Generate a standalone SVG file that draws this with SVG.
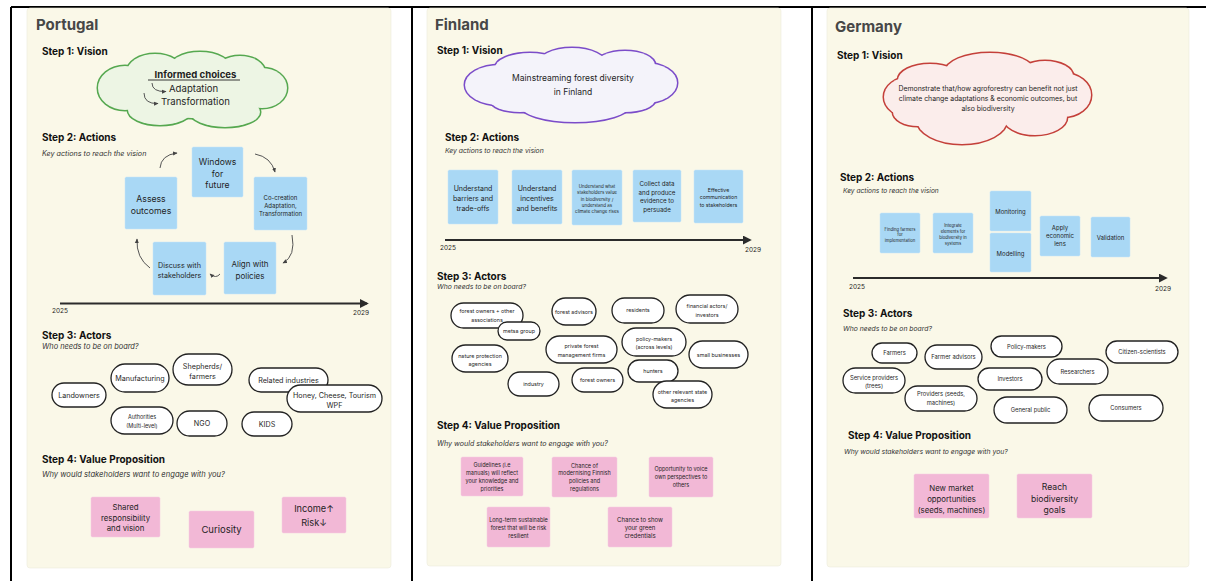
<svg xmlns="http://www.w3.org/2000/svg" width="1206" height="581" viewBox="0 0 1206 581">
<defs>
<style>
text{font-family:"Inter","Liberation Sans",sans-serif;fill:#1f1f1f}
.ttl{font-size:15px;font-weight:700;fill:#474747}
.h{font-size:10px;font-weight:700;fill:#111}
.it{font-style:italic;fill:#333}
.c{text-anchor:middle}
.panel{fill:#faf8e8;stroke:#ecebdc;stroke-width:0.6}
.blue{fill:#a9d8f5;stroke:#c4e4f8;stroke-width:0.5}
.pink{fill:#f2b8d6;stroke:#f6cfe3;stroke-width:0.5}
.pill{fill:#fff;stroke:#222;stroke-width:1.3}
.cur{fill:none;stroke:#555;stroke-width:1}
.tl{stroke:#2b2b2b;stroke-width:2}
.frame{stroke:#000;stroke-width:2}
</style>
<marker id="tri" viewBox="0 0 10 10" refX="8" refY="5" markerWidth="4.5" markerHeight="4.5" orient="auto"><path d="M0,0 L10,5 L0,10 z" fill="#2b2b2b"/></marker>
<marker id="ah" viewBox="0 0 10 10" refX="8" refY="5" markerWidth="5" markerHeight="5" orient="auto"><path d="M0,1 L9,5 L0,9 z" fill="#444"/></marker>
</defs>

<g id="frame">
<line class="frame" x1="11" y1="7" x2="1206" y2="7"/>
<line class="frame" x1="11" y1="7" x2="11" y2="581"/>
<line class="frame" x1="412" y1="7" x2="412" y2="581"/>
<line class="frame" x1="812" y1="7" x2="812" y2="581"/>
</g>

<!-- ================= PORTUGAL ================= -->
<g id="portugal">
<rect class="panel" x="27" y="8" width="364" height="560" rx="3"/>
<text class="ttl" x="36" y="30">Portugal</text>
<text class="h" x="42" y="55">Step 1: Vision</text>

<g id="pt-vision">
<g fill="#edf5e4" stroke="#56a850" stroke-width="3">
<ellipse cx="192" cy="90" rx="80" ry="28"/>
<ellipse cx="125" cy="88" rx="27" ry="22"/>
<ellipse cx="262" cy="88" rx="25" ry="20"/>
<ellipse cx="155" cy="72" rx="28" ry="18"/>
<ellipse cx="200" cy="70" rx="32" ry="18"/>
<ellipse cx="240" cy="72" rx="25" ry="16"/>
<ellipse cx="160" cy="110" rx="32" ry="15"/>
<ellipse cx="225" cy="112" rx="35" ry="15"/>
</g>
<g fill="#edf5e4">
<ellipse cx="192" cy="90" rx="80" ry="28"/>
<ellipse cx="125" cy="88" rx="27" ry="22"/>
<ellipse cx="262" cy="88" rx="25" ry="20"/>
<ellipse cx="155" cy="72" rx="28" ry="18"/>
<ellipse cx="200" cy="70" rx="32" ry="18"/>
<ellipse cx="240" cy="72" rx="25" ry="16"/>
<ellipse cx="160" cy="110" rx="32" ry="15"/>
<ellipse cx="225" cy="112" rx="35" ry="15"/>
</g>
<text x="195.5" y="78" class="c" font-size="9.6" font-weight="700">Informed choices</text>
<line x1="148" y1="80" x2="240" y2="80" stroke="#222" stroke-width="0.9"/>
<path class="cur" d="M152,83 Q152,92 166,91.5" stroke="#222" marker-end="url(#ah)"/>
<text x="169" y="92" font-size="9.6">Adaptation</text>
<path class="cur" d="M144,93 Q144,104 158,103.5" stroke="#222" marker-end="url(#ah)"/>
<text x="161" y="105" font-size="9.6">Transformation</text>
</g>

<text class="h" x="42" y="141">Step 2: Actions</text>
<text class="it" x="42" y="156" font-size="7.2">Key actions to reach the vision</text>

<g id="pt-windows"><rect class="blue" x="192" y="147" width="51" height="50" rx="1.5"/>
<text class="c" x="217.5" font-size="8.6"><tspan x="217.5" y="165">Windows</tspan><tspan x="217.5" y="176.5">for</tspan><tspan x="217.5" y="188">future</tspan></text></g>
<g id="pt-cocreation"><rect class="blue" x="254" y="177" width="53" height="53" rx="1.5"/>
<text class="c" font-size="6"><tspan x="280.5" y="199.5">Co-creation</tspan><tspan x="280.5" y="207.5">Adaptation,</tspan><tspan x="280.5" y="215.5">Transformation</tspan></text></g>
<g id="pt-assess"><rect class="blue" x="125" y="177" width="52" height="52" rx="1.5"/>
<text class="c" font-size="8.7"><tspan x="151" y="201.5">Assess</tspan><tspan x="151" y="213.5">outcomes</tspan></text></g>
<g id="pt-discuss"><rect class="blue" x="153" y="242" width="53" height="53" rx="1.5"/>
<text class="c" font-size="7.2"><tspan x="179.5" y="267.5">Discuss with</tspan><tspan x="179.5" y="277.5">stakeholders</tspan></text></g>
<g id="pt-align"><rect class="blue" x="224" y="242" width="52" height="52" rx="1.5"/>
<text class="c" font-size="8"><tspan x="250" y="267">Align with</tspan><tspan x="250" y="278.5">policies</tspan></text></g>

<g id="pt-connectors">
<path class="cur" d="M160,168 Q161,155 177,153" marker-end="url(#ah)"/>
<path class="cur" d="M255,154 Q271,157 275,172" marker-end="url(#ah)"/>
<path class="cur" d="M292,235 Q296,256 283,263" marker-end="url(#ah)"/>
<path class="cur" d="M220,274 Q216,279 210,274" marker-end="url(#ah)"/>
<path class="cur" d="M150,268 Q136,258 137,239" marker-end="url(#ah)"/>
</g>

<g id="pt-timeline">
<line class="tl" x1="60" y1="303.5" x2="367" y2="303.5" marker-end="url(#tri)"/>
<text x="52" y="313" font-size="6.5">2025</text>
<text x="353" y="315" font-size="6.5">2029</text>
</g>

<text class="h" x="42" y="339">Step 3: Actors</text>
<text class="it" x="42" y="349" font-size="7.4">Who needs to be on board?</text>

<g id="pt-actors" font-size="7.2">
<g id="pt-landowners"><rect class="pill" x="52" y="383" width="54" height="24" rx="12"/><text class="c" x="79" y="397.5">Landowners</text></g>
<g id="pt-manufacturing"><rect class="pill" x="111" y="364" width="58" height="28" rx="14"/><text class="c" x="140" y="380.5">Manufacturing</text></g>
<g id="pt-shepherds"><rect class="pill" x="173" y="354" width="59" height="31" rx="15.5"/><text class="c"><tspan x="202.5" y="368.5">Shepherds/</tspan><tspan x="202.5" y="378.5">farmers</tspan></text></g>
<g id="pt-related"><rect class="pill" x="249" y="368" width="79" height="24" rx="12"/><text class="c" x="288.5" y="382.5">Related industries</text></g>
<g id="pt-honey"><rect class="pill" x="287" y="385" width="95" height="27" rx="13.5"/><text class="c"><tspan x="334.5" y="397.5">Honey, Cheese, Tourism</tspan><tspan x="334.5" y="407.5">WPF</tspan></text></g>
<g id="pt-authorities"><rect class="pill" x="111" y="407" width="62" height="27" rx="13.5"/><text class="c" font-size="5.5"><tspan x="142" y="419">Authorities</tspan><tspan x="142" y="427.5">(Multi-level)</tspan></text></g>
<g id="pt-ngo"><rect class="pill" x="177" y="411" width="50" height="25" rx="12.5"/><text class="c" x="202" y="426">NGO</text></g>
<g id="pt-kids"><rect class="pill" x="242" y="412" width="50" height="24" rx="12"/><text class="c" x="267" y="427">KIDS</text></g>
</g>

<text class="h" x="42" y="463" font-size="9.5">Step 4: Value Proposition</text>
<text class="it" x="42" y="477" font-size="7.6">Why would stakeholders want to engage with you?</text>

<g id="pt-values">
<g id="pt-shared"><rect class="pink" x="91" y="497" width="69" height="40" rx="1.5"/><text class="c" font-size="7.8"><tspan x="125.5" y="510">Shared</tspan><tspan x="125.5" y="520.5">responsibility</tspan><tspan x="125.5" y="531">and vision</tspan></text></g>
<g id="pt-curiosity"><rect class="pink" x="189" y="511" width="65" height="37" rx="1.5"/><text class="c" x="221.5" y="533" font-size="9.5">Curiosity</text></g>
<g id="pt-income"><rect class="pink" x="282" y="497" width="64" height="36" rx="1.5"/><text class="c" font-size="9.2"><tspan x="314" y="512">Income↑</tspan><tspan x="314" y="525.5">Risk↓</tspan></text></g>
</g>
</g>

<!-- ================= FINLAND ================= -->
<g id="finland">
<rect class="panel" x="427" y="8" width="354" height="558" rx="3"/>
<text class="ttl" x="435" y="30">Finland</text>
<text class="h" x="437" y="54" font-size="9.5">Step 1: Vision</text>

<g id="fi-vision">
<g fill="#f4f3fa" stroke="#7b4cc9" stroke-width="3">
<ellipse cx="571" cy="85" rx="95" ry="25"/>
<ellipse cx="500" cy="85" rx="35" ry="20"/>
<ellipse cx="645" cy="83" rx="32" ry="20"/>
<ellipse cx="530" cy="68" rx="35" ry="15"/>
<ellipse cx="572" cy="65" rx="35" ry="17"/>
<ellipse cx="625" cy="65" rx="30" ry="14"/>
<ellipse cx="575" cy="105" rx="55" ry="17"/>
<ellipse cx="520" cy="100" rx="30" ry="12"/>
<ellipse cx="625" cy="100" rx="30" ry="12"/>
</g>
<g fill="#f4f3fa">
<ellipse cx="571" cy="85" rx="95" ry="25"/>
<ellipse cx="500" cy="85" rx="35" ry="20"/>
<ellipse cx="645" cy="83" rx="32" ry="20"/>
<ellipse cx="530" cy="68" rx="35" ry="15"/>
<ellipse cx="572" cy="65" rx="35" ry="17"/>
<ellipse cx="625" cy="65" rx="30" ry="14"/>
<ellipse cx="575" cy="105" rx="55" ry="17"/>
<ellipse cx="520" cy="100" rx="30" ry="12"/>
<ellipse cx="625" cy="100" rx="30" ry="12"/>
</g>
<text class="c" font-size="8.5"><tspan x="573" y="81">Mainstreaming forest diversity</tspan><tspan x="573" y="95">in Finland</tspan></text>
</g>

<text class="h" x="445" y="141">Step 2: Actions</text>
<text class="it" x="445" y="153" font-size="6.8">Key actions to reach the vision</text>

<g id="fi-actions">
<g id="fi-a1"><rect class="blue" x="448" y="170" width="50" height="54" rx="1.5"/><text class="c" font-size="7"><tspan x="473" y="190.5">Understand</tspan><tspan x="473" y="200.5">barriers and</tspan><tspan x="473" y="210.5">trade-offs</tspan></text></g>
<g id="fi-a2"><rect class="blue" x="512" y="170" width="50" height="54" rx="1.5"/><text class="c" font-size="7"><tspan x="537" y="190.5">Understand</tspan><tspan x="537" y="200.5">incentives</tspan><tspan x="537" y="210.5">and benefits</tspan></text></g>
<g id="fi-a3"><rect class="blue" x="572" y="170" width="50" height="55" rx="1.5"/><text class="c" font-size="4.5"><tspan x="597" y="187.5">Understand what</tspan><tspan x="597" y="194">stakeholders value</tspan><tspan x="597" y="200.5">in biodiversity /</tspan><tspan x="597" y="207">understand as</tspan><tspan x="597" y="213">climate change rises</tspan></text></g>
<g id="fi-a4"><rect class="blue" x="633" y="170" width="48" height="52" rx="1.5"/><text class="c" font-size="6.2"><tspan x="657" y="186">Collect data</tspan><tspan x="657" y="194.5">and produce</tspan><tspan x="657" y="203">evidence to</tspan><tspan x="657" y="211.5">persuade</tspan></text></g>
<g id="fi-a5"><rect class="blue" x="694" y="170" width="49" height="53" rx="1.5"/><text class="c" font-size="5.2"><tspan x="718.5" y="191.5">Effective</tspan><tspan x="718.5" y="199">communication</tspan><tspan x="718.5" y="206.5">to stakeholders</tspan></text></g>
</g>

<g id="fi-timeline">
<line class="tl" x1="445" y1="240" x2="750" y2="240" marker-end="url(#tri)"/>
<text x="440" y="250" font-size="6.5">2025</text>
<text x="745" y="252" font-size="6.5">2029</text>
</g>

<text class="h" x="437" y="280" font-size="9.2">Step 3: Actors</text>
<text class="it" x="437" y="289" font-size="6.8">Who needs to be on board?</text>

<g id="fi-actors" font-size="5.4">
<g id="fi-owners-assoc"><rect class="pill" x="451" y="303" width="72" height="25" rx="12.5"/><text class="c"><tspan x="487" y="313">forest owners + other</tspan><tspan x="487" y="321.5">associations</tspan></text></g>
<g id="fi-metsa"><rect class="pill" x="498" y="322" width="42" height="18" rx="9"/><text class="c" x="519" y="333">metsa group</text></g>
<g id="fi-advisors"><rect class="pill" x="552" y="298" width="44" height="27" rx="13.5"/><text class="c" x="574" y="313.5">forest advisors</text></g>
<g id="fi-residents"><rect class="pill" x="612" y="298" width="52" height="25" rx="12.5"/><text class="c" x="638" y="312">residents</text></g>
<g id="fi-financial"><rect class="pill" x="676" y="295" width="62" height="28" rx="14"/><text class="c"><tspan x="707" y="308">financial actors/</tspan><tspan x="707" y="316.5">investors</tspan></text></g>
<g id="fi-private"><rect class="pill" x="546" y="336" width="71" height="27" rx="13.5"/><text class="c"><tspan x="581.5" y="347.5">private forest</tspan><tspan x="581.5" y="356.5">management firms</tspan></text></g>
<g id="fi-policy"><rect class="pill" x="622" y="328" width="64" height="28" rx="14"/><text class="c"><tspan x="654" y="340.5">policy-makers</tspan><tspan x="654" y="349">(across levels)</tspan></text></g>
<g id="fi-small"><rect class="pill" x="689" y="341" width="59" height="27" rx="13.5"/><text class="c" x="718.5" y="356.5">small businesses</text></g>
<g id="fi-nature"><rect class="pill" x="452" y="345" width="56" height="27" rx="13.5"/><text class="c"><tspan x="480" y="357.5">nature protection</tspan><tspan x="480" y="366">agencies</tspan></text></g>
<g id="fi-industry"><rect class="pill" x="508" y="372" width="51" height="24" rx="12"/><text class="c" x="533.5" y="386">industry</text></g>
<g id="fi-owners"><rect class="pill" x="572" y="368" width="51" height="24" rx="12"/><text class="c" x="597.5" y="382">forest owners</text></g>
<g id="fi-hunters"><rect class="pill" x="628" y="360" width="50" height="22" rx="11"/><text class="c" x="653" y="373">hunters</text></g>
<g id="fi-state"><rect class="pill" x="653" y="381" width="59" height="27" rx="13.5"/><text class="c"><tspan x="682.5" y="393.5">other relevant state</tspan><tspan x="682.5" y="402">agencies</tspan></text></g>
</g>

<text class="h" x="437" y="429" font-size="11.5">Step 4: Value Proposition</text>
<text class="it" x="437" y="446" font-size="7.1">Why would stakeholders want to engage with you?</text>

<g id="fi-values" font-size="5.5">
<g id="fi-v1"><rect class="pink" x="461" y="457" width="62" height="39" rx="1.5"/><text class="c"><tspan x="492" y="466.5">Guidelines (i.e</tspan><tspan x="492" y="474.5">manuals) will reflect</tspan><tspan x="492" y="482.5">your knowledge and</tspan><tspan x="492" y="490.5">priorities</tspan></text></g>
<g id="fi-v2"><rect class="pink" x="552" y="457" width="65" height="40" rx="1.5"/><text class="c"><tspan x="584.5" y="467.5">Chance of</tspan><tspan x="584.5" y="475">modernising Finnish</tspan><tspan x="584.5" y="483">policies and</tspan><tspan x="584.5" y="491">regulations</tspan></text></g>
<g id="fi-v3"><rect class="pink" x="649" y="457" width="64" height="40" rx="1.5"/><text class="c"><tspan x="681" y="471">Opportunity to voice</tspan><tspan x="681" y="479">own perspectives to</tspan><tspan x="681" y="487">others</tspan></text></g>
<g id="fi-v4"><rect class="pink" x="487" y="507" width="63" height="40" rx="1.5"/><text class="c"><tspan x="518.5" y="522">Long-term sustainable</tspan><tspan x="518.5" y="530">forest that will be risk</tspan><tspan x="518.5" y="538">resilient</tspan></text></g>
<g id="fi-v5"><rect class="pink" x="608" y="507" width="64" height="40" rx="1.5"/><text class="c" font-size="6"><tspan x="640" y="522">Chance to show</tspan><tspan x="640" y="530">your green</tspan><tspan x="640" y="538">credentials</tspan></text></g>
</g>
</g>

<!-- ================= GERMANY ================= -->
<g id="germany">
<rect class="panel" x="827" y="8" width="362" height="559" rx="3"/>
<text class="ttl" x="835" y="32">Germany</text>
<text class="h" x="837" y="59" font-size="9.7">Step 1: Vision</text>

<g id="de-vision">
<g fill="#fbedeb" stroke="#c4403a" stroke-width="3">
<ellipse cx="988" cy="97" rx="95" ry="25"/>
<ellipse cx="910" cy="97" rx="26" ry="20"/>
<ellipse cx="1063" cy="95" rx="28" ry="22"/>
<ellipse cx="930" cy="80" rx="32" ry="16"/>
<ellipse cx="990" cy="72" rx="45" ry="19"/>
<ellipse cx="1045" cy="76" rx="28" ry="15"/>
<ellipse cx="962" cy="120" rx="45" ry="24"/>
<ellipse cx="1035" cy="117" rx="32" ry="18"/>
<ellipse cx="918" cy="112" rx="25" ry="14"/>
</g>
<g fill="#fbedeb">
<ellipse cx="988" cy="97" rx="95" ry="25"/>
<ellipse cx="910" cy="97" rx="26" ry="20"/>
<ellipse cx="1063" cy="95" rx="28" ry="22"/>
<ellipse cx="930" cy="80" rx="32" ry="16"/>
<ellipse cx="990" cy="72" rx="45" ry="19"/>
<ellipse cx="1045" cy="76" rx="28" ry="15"/>
<ellipse cx="962" cy="120" rx="45" ry="24"/>
<ellipse cx="1035" cy="117" rx="32" ry="18"/>
<ellipse cx="918" cy="112" rx="25" ry="14"/>
</g>
<text class="c" font-size="6.9"><tspan x="988" y="91">Demonstrate that/how agroforestry can benefit not just</tspan><tspan x="988" y="101">climate change adaptations &amp; economic outcomes, but</tspan><tspan x="988" y="110.5">also biodiversity</tspan></text>
</g>

<text class="h" x="840" y="181">Step 2: Actions</text>
<text class="it" x="843" y="193" font-size="6.6">Key actions to reach the vision</text>

<g id="de-actions">
<g id="de-a1"><rect class="blue" x="880" y="213" width="40" height="40" rx="1.5"/><text class="c" font-size="4.2"><tspan x="900" y="230.5">Finding farmers</tspan><tspan x="900" y="236">for</tspan><tspan x="900" y="242">implementation</tspan></text></g>
<g id="de-a2"><rect class="blue" x="933" y="213" width="40" height="40" rx="1.5"/><text class="c" font-size="4.2"><tspan x="953" y="226.5">Integrate</tspan><tspan x="953" y="232.5">elements for</tspan><tspan x="953" y="238.5">biodiversity in</tspan><tspan x="953" y="244.5">systems</tspan></text></g>
<g id="de-a3"><rect class="blue" x="990" y="191" width="41" height="40" rx="1.5"/><text class="c" x="1010.5" y="214" font-size="6">Monitoring</text></g>
<g id="de-a4"><rect class="blue" x="990" y="233" width="41" height="39" rx="1.5"/><text class="c" x="1010.5" y="255.5" font-size="6">Modelling</text></g>
<g id="de-a5"><rect class="blue" x="1040" y="216" width="40" height="40" rx="1.5"/><text class="c" font-size="6"><tspan x="1060" y="230">Apply</tspan><tspan x="1060" y="238">economic</tspan><tspan x="1060" y="246">lens</tspan></text></g>
<g id="de-a6"><rect class="blue" x="1091" y="217" width="39" height="40" rx="1.5"/><text class="c" x="1110.5" y="239.5" font-size="6">Validation</text></g>
</g>

<g id="de-timeline">
<line class="tl" x1="853" y1="278" x2="1166" y2="278" marker-end="url(#tri)"/>
<text x="849" y="289" font-size="6.5">2025</text>
<text x="1155" y="291" font-size="6.5">2029</text>
</g>

<text class="h" x="843" y="317" font-size="10.3">Step 3: Actors</text>
<text class="it" x="843" y="331" font-size="6.8">Who needs to be on board?</text>

<g id="de-actors" font-size="5.8">
<g id="de-farmers"><rect class="pill" x="872" y="343" width="45" height="20" rx="10"/><text class="c" x="894.5" y="355">Farmers</text></g>
<g id="de-advisors"><rect class="pill" x="925" y="345" width="57" height="24" rx="12"/><text class="c" x="953.5" y="359">Farmer advisors</text></g>
<g id="de-policy"><rect class="pill" x="991" y="336" width="71" height="21" rx="10.5"/><text class="c" x="1026.5" y="348.5">Policy-makers</text></g>
<g id="de-citizen"><rect class="pill" x="1106" y="341" width="72" height="22" rx="11"/><text class="c" x="1142" y="354">Citizen-scientists</text></g>
<g id="de-service"><rect class="pill" x="843" y="368" width="62" height="25" rx="12.5"/><text class="c"><tspan x="874" y="379.5">Service providers</tspan><tspan x="874" y="387.5">(trees)</tspan></text></g>
<g id="de-investors"><rect class="pill" x="978" y="368" width="64" height="22" rx="11"/><text class="c" x="1010" y="381">Investors</text></g>
<g id="de-researchers"><rect class="pill" x="1047" y="359" width="61" height="25" rx="12.5"/><text class="c" x="1077.5" y="373.5">Researchers</text></g>
<g id="de-providers"><rect class="pill" x="905" y="386" width="72" height="25" rx="12.5"/><text class="c"><tspan x="941" y="396">Providers (seeds,</tspan><tspan x="941" y="404.5">machines)</tspan></text></g>
<g id="de-public"><rect class="pill" x="994" y="397" width="73" height="26" rx="13"/><text class="c" x="1030.5" y="412">General public</text></g>
<g id="de-consumers"><rect class="pill" x="1089" y="395" width="74" height="26" rx="13"/><text class="c" x="1126" y="410">Consumers</text></g>
</g>

<text class="h" x="848" y="439" font-size="10.9">Step 4: Value Proposition</text>
<text class="it" x="844" y="454" font-size="6.8">Why would stakeholders want to engage with you?</text>

<g id="de-values">
<g id="de-v1"><rect class="pink" x="914" y="474" width="75" height="44" rx="1.5"/><text class="c" font-size="7.8"><tspan x="951.5" y="490.5">New market</tspan><tspan x="951.5" y="501.5">opportunities</tspan><tspan x="951.5" y="512.5">(seeds, machines)</tspan></text></g>
<g id="de-v2"><rect class="pink" x="1017" y="474" width="75" height="44" rx="1.5"/><text class="c" font-size="8.6"><tspan x="1054.5" y="490">Reach</tspan><tspan x="1054.5" y="501.5">biodiversity</tspan><tspan x="1054.5" y="513">goals</tspan></text></g>
</g>
</g>
</svg>
